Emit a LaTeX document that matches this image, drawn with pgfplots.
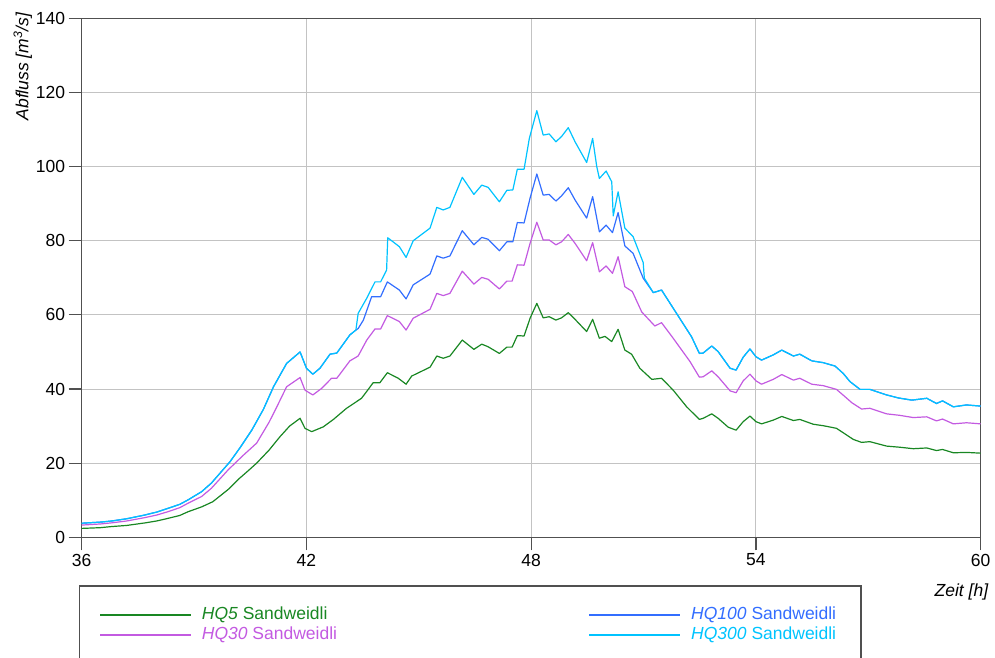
\documentclass[border=0pt]{standalone}
\usepackage{fontspec}
\setmainfont{Liberation Sans}
\usepackage{pgfplots}
\pgfplotsset{compat=1.18}

\definecolor{cHQfive}{RGB}{25,135,35}
\definecolor{cHQthirty}{RGB}{195,90,225}
\definecolor{cHQhundred}{RGB}{50,110,255}
\definecolor{cHQthreehundred}{RGB}{0,195,255}
\definecolor{axisgray}{RGB}{80,80,80}
\definecolor{gridgray}{RGB}{195,195,195}

\newcommand{\lblfont}{\fontsize{17.5}{20}\selectfont}

\begin{document}
\begin{tikzpicture}
\begin{axis}[
  at={(0pt,0pt)}, anchor=south west,
  scale only axis,
  width=899pt, height=519pt,
  xmin=36, xmax=60, ymin=0, ymax=140,
  xtick={36,42,48,54,60},
  ytick={0,20,40,60,80,100,120,140},
  grid=major,
  grid style={gridgray, line width=1pt},
  axis line style={axisgray, line width=1.2pt},
  tick align=outside, tick pos=left,
  major tick length=13pt,
  tick style={axisgray, line width=1.1pt},
  /pgf/number format/assume math mode=true,
  ticklabel style={font=\lblfont, text=black},
  every axis plot/.append style={line width=1.2pt, line join=round},
]
% HQ5
\addplot[cHQfive] table {
36.00 2.4
36.50 2.6
36.80 2.9
37.20 3.2
37.70 3.9
38.00 4.4
38.30 5.1
38.62 5.9
38.84 6.9
39.20 8.2
39.50 9.6
39.91 12.9
40.20 15.8
40.45 18.0
40.67 20.0
41.00 23.5
41.29 27.1
41.55 30.0
41.83 32.1
41.96 29.4
42.14 28.5
42.45 29.8
42.72 31.8
43.07 34.8
43.47 37.5
43.65 39.9
43.78 41.7
43.96 41.7
44.16 44.4
44.45 42.9
44.66 41.3
44.81 43.5
45.30 45.9
45.48 48.9
45.65 48.3
45.83 48.9
46.16 53.2
46.47 50.7
46.68 52.1
46.85 51.4
47.15 49.6
47.35 51.3
47.49 51.3
47.63 54.4
47.81 54.3
47.97 59.1
48.15 63.1
48.32 59.2
48.48 59.5
48.66 58.6
48.81 59.2
48.99 60.6
49.17 58.8
49.48 55.5
49.64 58.8
49.82 53.7
49.97 54.2
50.15 52.8
50.32 56.1
50.50 50.5
50.68 49.4
50.90 45.6
51.22 42.6
51.48 42.9
51.79 39.7
52.15 35.2
52.49 31.8
52.59 32.1
52.82 33.3
52.99 32.1
53.26 29.7
53.47 28.9
53.66 31.2
53.84 32.7
54.00 31.2
54.15 30.6
54.46 31.6
54.69 32.6
55.00 31.5
55.17 31.8
55.53 30.5
55.80 30.1
56.15 29.4
56.42 27.6
56.60 26.4
56.82 25.6
57.04 25.8
57.49 24.6
57.84 24.3
58.20 23.9
58.56 24.1
58.82 23.4
58.98 23.7
59.27 22.8
59.62 22.9
60.00 22.7
};
% HQ30
\addplot[cHQthirty] table {
36.00 3.3
36.50 3.6
36.80 3.9
37.20 4.4
37.68 5.3
38.00 6.0
38.30 6.9
38.62 8.0
38.84 9.2
39.20 11.0
39.46 13.2
39.91 18.2
40.30 22.0
40.67 25.4
41.00 31.0
41.20 35.0
41.47 40.6
41.83 43.1
41.96 39.7
42.17 38.4
42.41 40.2
42.67 42.9
42.81 42.9
43.16 47.6
43.38 48.9
43.61 53.2
43.83 56.2
43.98 56.2
44.16 59.8
44.48 58.2
44.66 55.9
44.85 59.1
45.30 61.5
45.48 65.8
45.65 65.2
45.83 65.8
46.16 71.8
46.47 68.3
46.68 70.1
46.85 69.6
47.15 67.0
47.35 69.1
47.49 69.1
47.63 73.5
47.81 73.4
47.97 79.3
48.15 85.0
48.32 80.2
48.48 80.2
48.66 78.9
48.81 79.7
48.99 81.7
49.17 79.3
49.48 74.6
49.64 79.5
49.82 71.6
50.00 73.2
50.17 71.2
50.32 75.7
50.50 67.6
50.70 66.3
50.95 60.8
51.30 57.0
51.48 57.9
51.79 53.7
52.24 47.4
52.49 43.2
52.59 43.3
52.82 44.9
52.99 43.3
53.31 39.5
53.47 39.0
53.66 42.2
53.84 44.0
54.00 42.2
54.15 41.3
54.46 42.6
54.69 43.9
55.00 42.4
55.17 42.9
55.49 41.3
55.80 40.9
56.15 39.9
56.38 37.9
56.56 36.3
56.82 34.6
57.04 34.8
57.49 33.3
57.84 32.9
58.20 32.3
58.56 32.5
58.82 31.4
58.98 31.9
59.27 30.6
59.62 30.9
60.00 30.6
};
% HQ100
\addplot[cHQhundred] table {
36.00 3.8
36.50 4.1
36.80 4.4
37.20 5.0
37.68 6.0
38.00 6.8
38.30 7.8
38.62 8.9
38.84 10.1
39.20 12.3
39.46 14.6
39.77 18.2
39.96 20.4
40.25 24.5
40.54 28.9
40.85 34.5
41.12 40.6
41.47 46.9
41.83 50.0
42.00 45.6
42.17 44.0
42.36 45.6
42.63 49.4
42.81 49.7
43.16 54.6
43.32 55.9
43.38 56.3
43.52 58.6
43.74 64.9
43.98 64.9
44.16 68.9
44.48 66.7
44.66 64.3
44.85 68.1
45.30 71.0
45.48 75.9
45.65 75.3
45.83 75.9
46.16 82.7
46.47 78.9
46.68 80.9
46.85 80.4
47.15 77.3
47.35 79.7
47.51 79.7
47.63 84.9
47.81 84.8
47.97 91.5
48.15 98.0
48.32 92.3
48.48 92.5
48.66 90.7
48.81 92.1
48.99 94.3
49.17 91.0
49.48 86.1
49.64 91.9
49.82 82.4
50.00 84.2
50.17 82.2
50.32 87.6
50.50 78.6
50.72 76.6
50.99 69.9
51.26 66.0
51.48 66.7
51.88 60.4
52.28 54.1
52.49 49.6
52.59 49.7
52.82 51.6
52.99 50.1
53.31 45.6
53.47 45.1
53.66 48.6
53.84 50.8
54.00 48.7
54.15 47.8
54.46 49.2
54.69 50.5
55.00 48.9
55.17 49.4
55.49 47.6
55.80 47.1
56.11 46.2
56.33 44.2
56.51 42.0
56.78 39.9
57.04 39.9
57.49 38.4
57.80 37.6
58.16 37.0
58.56 37.5
58.82 36.1
58.98 36.8
59.27 35.2
59.62 35.7
60.00 35.4
};
% HQ300
\addplot[cHQthreehundred] table {
36.00 3.8
36.50 4.1
36.80 4.4
37.20 5.0
37.68 6.0
38.00 6.8
38.30 7.8
38.62 8.9
38.84 10.1
39.20 12.3
39.46 14.6
39.77 18.2
39.96 20.4
40.25 24.5
40.54 28.9
40.85 34.5
41.12 40.6
41.47 46.9
41.83 50.0
42.00 45.6
42.17 44.0
42.36 45.6
42.63 49.4
42.81 49.7
43.16 54.6
43.32 55.9
43.38 60.4
43.61 64.5
43.83 68.9
43.98 68.9
44.14 72.1
44.17 80.8
44.48 78.4
44.66 75.5
44.85 80.0
45.30 83.4
45.48 89.0
45.65 88.3
45.83 89.0
46.16 97.1
46.47 92.5
46.68 95.0
46.85 94.4
47.15 90.5
47.35 93.6
47.51 93.7
47.63 99.3
47.81 99.3
47.95 107.6
48.15 115.1
48.32 108.5
48.48 108.8
48.66 106.7
48.81 108.1
48.99 110.5
49.17 106.7
49.48 101.1
49.64 107.6
49.75 100.0
49.82 96.8
50.00 98.8
50.15 95.9
50.19 86.7
50.32 93.2
50.50 83.4
50.72 81.1
50.99 74.1
51.02 69.9
51.26 66.0
51.48 66.7
51.88 60.4
52.28 54.1
52.49 49.6
52.59 49.7
52.82 51.6
52.99 50.1
53.31 45.6
53.47 45.1
53.66 48.6
53.84 50.8
54.00 48.7
54.15 47.8
54.46 49.2
54.69 50.5
55.00 48.9
55.17 49.4
55.49 47.6
55.80 47.1
56.11 46.2
56.33 44.2
56.51 42.0
56.78 39.9
57.04 39.9
57.49 38.4
57.80 37.6
58.16 37.0
58.56 37.5
58.82 36.1
58.98 36.8
59.27 35.2
59.62 35.7
60.00 35.4
};
\end{axis}

% axis titles
\node[rotate=90, anchor=east, inner sep=0pt, font=\lblfont]
  at (-59pt,525pt) {\textit{Abfluss [m\textsuperscript{3}/s]}};
\node[anchor=north east, inner sep=0pt, font=\lblfont]
  at (907pt,-46pt) {\textit{Zeit [h]}};

% legend frame and entries
\draw[axisgray, line width=1.1pt] (-2.4pt,-160pt) -- (-2.4pt,-48.7pt) -- (779.3pt,-48.7pt) -- (779.3pt,-160pt);
\begin{scope}[line width=1.4pt]
  \draw[cHQfive] (18.3pt,-77.7pt) -- (109pt,-77.7pt);
  \draw[cHQthirty] (18.3pt,-97.7pt) -- (109pt,-97.7pt);
  \draw[cHQhundred] (507.3pt,-77.7pt) -- (598.3pt,-77.7pt);
  \draw[cHQthreehundred] (507.3pt,-97.7pt) -- (598.3pt,-97.7pt);
\end{scope}
\begin{scope}[every node/.style={anchor=west, inner sep=0pt, font=\lblfont}]
  \node[text=cHQfive] at (120pt,-77.7pt) {\textit{HQ5} Sandweidli};
  \node[text=cHQthirty] at (120pt,-97.7pt) {\textit{HQ30} Sandweidli};
  \node[text=cHQhundred] at (609.3pt,-77.7pt) {\textit{HQ100} Sandweidli};
  \node[text=cHQthreehundred] at (609.3pt,-97.7pt) {\textit{HQ300} Sandweidli};
\end{scope}

\pgfresetboundingbox
\useasboundingbox (-81.7pt,-119.7pt) rectangle (913.3pt,537.3pt);
\end{tikzpicture}
\end{document}
